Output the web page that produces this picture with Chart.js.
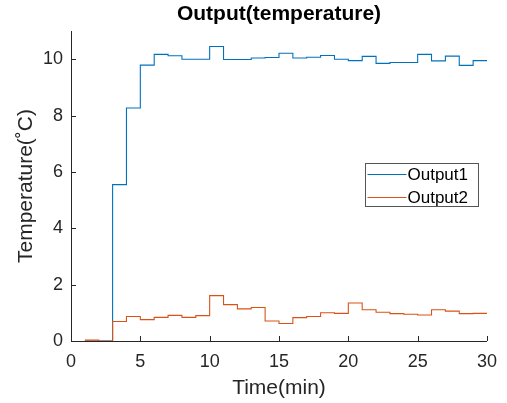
<!DOCTYPE html>
<html lang="en">
<head>
  <meta charset="UTF-8">
  <title>Output(temperature)</title>
  <script src="https://cdn.jsdelivr.net/npm/chart.js@4/dist/chart.umd.min.js"></script>
  <style>
    html, body { margin: 0; padding: 0; background: #fff; }
    .box { position: relative; width: 507px; height: 403px; }
  </style>
</head>
<body>
<div class="box"><canvas id="chart"></canvas></div>
<script>
// ---------------------------------------------------------------------------
// Data (stairs, one sample per minute)
// ---------------------------------------------------------------------------
const times = [1, 2, 3, 4, 5, 6, 7, 8, 9, 10, 11, 12, 13, 14, 15,
               16, 17, 18, 19, 20, 21, 22, 23, 24, 25, 26, 27, 28, 29, 30];
const output1 = [0, 0, 5.55, 8.27, 9.79, 10.17, 10.12, 10.0, 10.0, 10.45,
                 9.99, 9.99, 10.04, 10.06, 10.21, 10.04, 10.07, 10.13, 10.0, 9.95,
                 10.1, 9.85, 9.88, 9.88, 10.17, 9.94, 10.11, 9.78, 9.95, 9.95];
const output2 = [0.03, 0, 0.69, 0.87, 0.76, 0.84, 0.91, 0.84, 0.90, 1.61,
                 1.29, 1.14, 1.19, 0.71, 0.62, 0.83, 0.87, 1.0, 0.98, 1.35,
                 1.11, 1.02, 0.97, 0.95, 0.92, 1.11, 1.06, 0.97, 0.98, 0.98];
const seriesNames = ['Output1', 'Output2'];
const xTicks = [0, 5, 10, 15, 20, 25, 30];
const yTicks = [0, 2, 4, 6, 8, 10];

const AXIS = '#262626';
const FONT = "'Liberation Sans', Arial, Helvetica, sans-serif";
const toPts = (ys) => times.map((t, i) => ({ x: t, y: ys[i] }));

// MATLAB-Stil: Ticks nach innen + Legende im Plot
const matlabPlugin = {
  id: 'matlab',
  afterDraw(chart) {
    const { ctx, chartArea: a, scales } = chart;
    ctx.save();
    ctx.strokeStyle = AXIS;
    ctx.lineWidth = 1;
    ctx.beginPath();
    xTicks.forEach(v => {
      const x = Math.round(scales.x.getPixelForValue(v)) + 0.5;
      ctx.moveTo(x, a.bottom); ctx.lineTo(x, a.bottom - 5);
    });
    yTicks.forEach(v => {
      const y = Math.round(scales.y.getPixelForValue(v)) + 0.5;
      ctx.moveTo(a.left, y); ctx.lineTo(a.left + 5, y);
    });
    ctx.stroke();

    // legend box
    const bx = a.right - 121.5, by = a.top + 132.5, bw = 113, bh = 43;
    ctx.fillStyle = '#fff';
    ctx.fillRect(bx, by, bw, bh);
    ctx.strokeStyle = '#555';
    ctx.strokeRect(bx, by, bw, bh);
    ctx.font = '17px ' + FONT;
    ctx.textBaseline = 'middle';
    ctx.textAlign = 'left';
    chart.data.datasets.forEach((ds, i) => {
      const ly = by + 11 + i * 23;
      ctx.strokeStyle = ds.borderColor;
      ctx.beginPath();
      ctx.moveTo(bx + 2, ly); ctx.lineTo(bx + 41, ly);
      ctx.stroke();
      ctx.fillStyle = '#000';
      ctx.fillText(ds.label, bx + 42, ly + 1);
    });
    ctx.restore();
  }
};

new Chart(document.getElementById('chart'), {
  type: 'line',
  plugins: [matlabPlugin],
  data: {
    datasets: [
      { label: seriesNames[0], data: toPts(output1), stepped: true, order: 1,
        borderColor: '#0072BD', borderWidth: 1.1, pointRadius: 0, fill: false },
      { label: seriesNames[1], data: toPts(output2), stepped: true, order: 0,
        borderColor: '#D95319', borderWidth: 1.1, pointRadius: 0, fill: false },
    ]
  },
  options: {
    responsive: true,
    maintainAspectRatio: false,
    animation: false,
    events: [],
    layout: { padding: { top: 0, right: 19, bottom: 0, left: 0 } },
    plugins: {
      legend: { display: false },
      tooltip: { enabled: false },
      title: {
        display: true, fullSize: false,
        text: 'Output(temperature)',
        color: '#000',
        font: { family: FONT, size: 21, weight: 'bold', lineHeight: 1.2 },
        padding: { top: 2, bottom: 3.8 }
      }
    },
    scales: {
      x: {
        type: 'linear', min: 0, max: 30,
        afterBuildTicks: (s) => { s.ticks = xTicks.map(v => ({ value: v })); },
        afterFit: (s) => { s.height = 62; },
        grid: { drawOnChartArea: false, drawTicks: false },
        border: { display: true, color: AXIS, width: 1 },
        ticks: { color: AXIS, padding: 10, maxRotation: 0,
                 font: { family: FONT, size: 18 } },
        title: { display: true, text: 'Time(min)', color: AXIS,
                 font: { family: FONT, size: 21, lineHeight: 1.2 },
                 padding: { top: 0, bottom: 2 } }
      },
      y: {
        type: 'linear', min: 0, max: 11,
        afterBuildTicks: (s) => { s.ticks = yTicks.map(v => ({ value: v })); },
        afterFit: (s) => { s.width = 71; },
        grid: { drawOnChartArea: false, drawTicks: false },
        border: { display: true, color: AXIS, width: 1 },
        ticks: { color: AXIS, padding: 8,
                 font: { family: FONT, size: 18 } },
        title: { display: true, text: 'Temperature(˚C)', color: AXIS,
                 font: { family: FONT, size: 21, lineHeight: 1.2 },
                 padding: { top: 14, bottom: 0 } }
      }
    }
  }
});
</script>
</body>
</html>
